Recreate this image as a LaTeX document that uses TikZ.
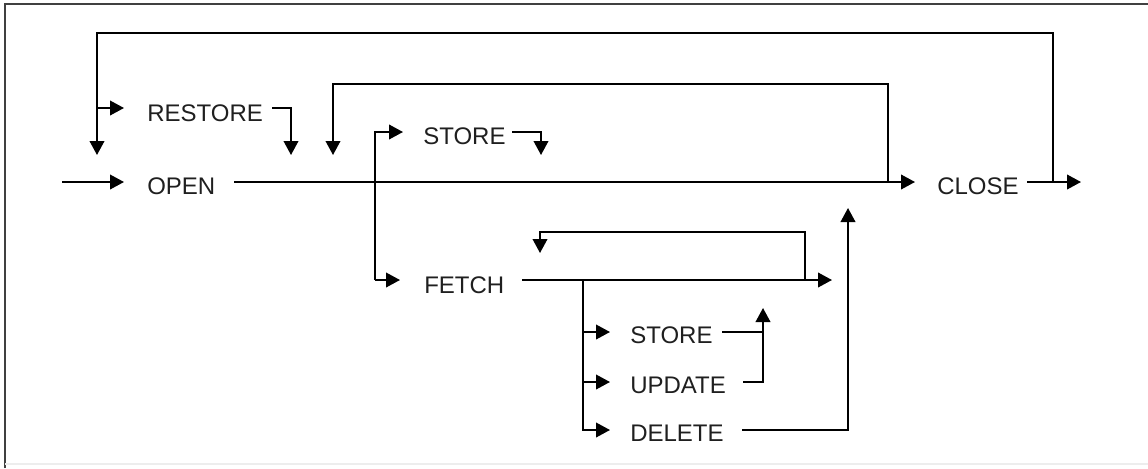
\documentclass[tikz,border=0pt]{standalone}
\usepackage{fontspec}
\setmainfont{Liberation Sans}
\usetikzlibrary{arrows.meta}
\begin{document}
\begin{tikzpicture}[x=0.75pt,y=-0.75pt,
  ln/.style={line width=1.3pt, line join=miter},
  arr/.style={ln, -{Triangle[length=10.5pt,width=11pt]}},
  kw/.style={anchor=base west, inner sep=0pt, font=\fontsize{18}{20}\selectfont, text=black!88}]
\useasboundingbox (0,0) rectangle (1148,468);
% frame
\draw[line width=1.6pt, black!75] (5,468) -- (5,4) -- (1148,4);
\draw[black!7, line width=1pt] (5,464) -- (1148,464);
% keyword nodes
\node[kw] (restore) at (147,121) {RESTORE};
\node[kw] (open)    at (147,194) {OPEN};
\node[kw] (store)   at (423,144) {STORE};
\node[kw] (close)   at (937,194) {CLOSE};
\node[kw] (fetch)   at (424,293) {FETCH};
\node[kw] (store2)  at (630,343) {STORE};
\node[kw] (update)  at (630,393) {UPDATE};
\node[kw] (delete)  at (630,441) {DELETE};
% junction coordinates
\coordinate (start)     at (62,182);
\coordinate (openIn)    at (124,182);
\coordinate (openOut)   at (234,182);
\coordinate (closeIn)   at (915,182);
\coordinate (closeOut)  at (1027,182);
\coordinate (end)       at (1081,182);
\coordinate (loopA)     at (1053,182);
\coordinate (loopAtip)  at (97,155);
\coordinate (restIn)    at (124,108);
\coordinate (restOut)   at (272,108);
\coordinate (restTip)   at (291,155);
\coordinate (loopB)     at (888,182);
\coordinate (loopBtip)  at (333,155);
\coordinate (forkA)     at (375,280);
\coordinate (storeIn)   at (403,132);
\coordinate (fetchIn)   at (400,280);
\coordinate (storeOut)  at (512,132);
\coordinate (storeTip)  at (541,155);
\coordinate (fetchOut)  at (522,280);
\coordinate (fetchEnd)  at (832,280);
\coordinate (loopC)     at (805,280);
\coordinate (loopCtip)  at (540,253);
\coordinate (forkB)     at (583,280);
\coordinate (storeBIn)  at (610,332);
\coordinate (updIn)     at (610,382);
\coordinate (delIn)     at (610,430);
\coordinate (storeBOut) at (722,332);
\coordinate (updOut)    at (743,382);
\coordinate (updTip)    at (763,308);
\coordinate (delOut)    at (742,430);
\coordinate (delTip)    at (848,208);
% connectors
\draw[arr] (start) -- (openIn);
\draw[arr] (openOut) -- (closeIn);
\draw[arr] (closeOut) -- (end);
\draw[arr] (loopA) -- (loopA |- 0,33) -- (loopAtip |- 0,33) -- (loopAtip);
\draw[arr] (loopAtip |- restIn) -- (restIn);
\draw[arr] (restOut) -- (restOut -| restTip) -- (restTip);
\draw[arr] (loopB) -- (loopB |- 0,84) -- (loopBtip |- 0,84) -- (loopBtip);
\draw[arr] (forkA) -- (forkA |- storeIn) -- (storeIn);
\draw[arr] (forkA) -- (fetchIn);
\draw[arr] (storeOut) -- (storeOut -| storeTip) -- (storeTip);
\draw[arr] (fetchOut) -- (fetchEnd);
\draw[arr] (loopC) -- (loopC |- 0,232) -- (loopCtip |- 0,232) -- (loopCtip);
\draw[arr] (forkB) -- (forkB |- delIn) -- (delIn);
\draw[arr] (forkB |- storeBIn) -- (storeBIn);
\draw[arr] (forkB |- updIn) -- (updIn);
\draw[ln] (storeBOut) -- (storeBOut -| updTip);
\draw[arr] (updOut) -- (updOut -| updTip) -- (updTip);
\draw[arr] (delOut) -- (delOut -| delTip) -- (delTip);
\end{tikzpicture}
\end{document}
